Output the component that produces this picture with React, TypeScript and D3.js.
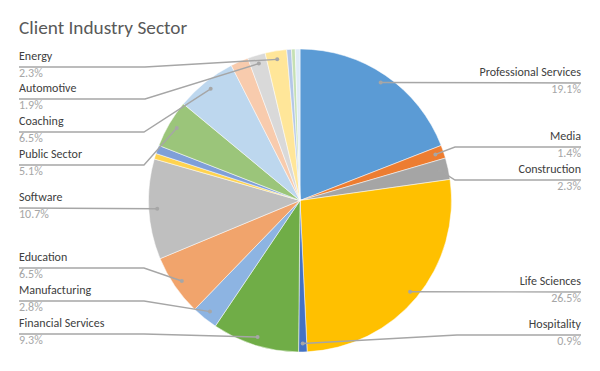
import React from "react";
import * as d3 from "d3";

const categories = [
  "Professional Services", "Media", "Construction", "Life Sciences", "Hospitality",
  "Financial Services", "Manufacturing", "Education", "Software", "Other A", "Other B",
  "Public Sector", "Coaching", "Other C", "Automotive", "Energy", "Other D", "Other E", "Other F",
];
const values = [19.1, 1.4, 2.3, 26.5, 0.9, 9.3, 2.8, 6.5, 10.7, 0.6, 0.9, 5.1, 6.5, 1.9, 1.9, 2.3, 0.5, 0.4, 0.5];
const pctLabels = ["19.1%", "1.4%", "2.3%", "26.5%", "0.9%", "9.3%", "2.8%", "6.5%", "10.7%", "", "", "5.1%", "6.5%", "", "1.9%", "2.3%", "", "", ""];
const colors = [
  "#5B9BD5", "#ED7D31", "#A5A5A5", "#FFC000", "#4472C4", "#70AD47",
  "#8DB4E2", "#F1A46C", "#BFBFBF", "#FFD34F", "#7F9FD8", "#9BC57A",
  "#BDD7EE", "#F8CBAD", "#D9D9D9", "#FFE699", "#B4C7E7", "#C5E0B4", "#DEEBF7",
];

// label layout: side, leader line y, bend x (null = straight)
const labelLayout: Record<string, { side: "left" | "right"; y: number; bend: number | null }> = {
  "Energy": { side: "left", y: 67, bend: 145 },
  "Automotive": { side: "left", y: 99, bend: 145 },
  "Coaching": { side: "left", y: 132, bend: 144 },
  "Public Sector": { side: "left", y: 165, bend: 144 },
  "Software": { side: "left", y: 208, bend: null },
  "Education": { side: "left", y: 268, bend: 144 },
  "Manufacturing": { side: "left", y: 301, bend: 144 },
  "Financial Services": { side: "left", y: 334, bend: 144 },
  "Professional Services": { side: "right", y: 83, bend: null },
  "Media": { side: "right", y: 147, bend: 455 },
  "Construction": { side: "right", y: 180, bend: 455 },
  "Life Sciences": { side: "right", y: 292, bend: null },
  "Hospitality": { side: "right", y: 335, bend: 457 },
};

const W = 600, H = 371;
const CX = 300, CY = 200.5, R = 151.5;
const LEFT_X = 19, RIGHT_X = 581;
const FONT = "Carlito, Calibri, Lato, 'Open Sans', sans-serif";

export default function App() {
  const data = categories.map((c, i) => ({ name: c, value: values[i], pct: pctLabels[i], color: colors[i] }));
  const pie = d3.pie<any>().sort(null).value((d) => d.value);
  const arcs = pie(data);
  const arc = d3.arc<any>().innerRadius(0).outerRadius(R);
  const dotArc = d3.arc<any>().innerRadius(143).outerRadius(143);

  return (
    <svg width={W} height={H} style={{ position: "absolute", left: 0, top: 0, background: "#fff" }} fontFamily={FONT}>
      <rect width={W} height={H} fill="#fff" />
      <text x={LEFT_X} y={34} fontSize={19.3} fill="#595959">Client Industry Sector</text>
      <g transform={`translate(${CX},${CY})`}>
        {arcs.map((a, i) => (
          <path key={i} d={arc(a) as string} fill={a.data.color} stroke="#fff" strokeWidth={0.5} />
        ))}
      </g>
      {arcs.map((a, i) => {
        const lay = labelLayout[a.data.name];
        if (!lay) return null;
        const [dx, dy] = dotArc.centroid(a);
        const px = CX + dx, py = CY + dy;
        const tx = lay.side === "left" ? LEFT_X : RIGHT_X;
        const pts: [number, number][] = [[tx, lay.y]];
        if (lay.bend !== null) pts.push([lay.bend, lay.y]);
        pts.push([px, py]);
        const line = d3.line()(pts) as string;
        const anchor = lay.side === "left" ? "start" : "end";
        return (
          <g key={"l" + i}>
            <path d={line} fill="none" stroke="#A6A6A6" strokeWidth={1.4} />
            <circle cx={px} cy={py} r={2} fill="#A6A6A6" />
            <text x={tx} y={lay.y - 7} fontSize={12} fill="#404040" textAnchor={anchor}>{a.data.name}</text>
            <text x={tx} y={lay.y + 10} fontSize={12} fill="#A6A6A6" textAnchor={anchor}>{a.data.pct}</text>
          </g>
        );
      })}
    </svg>
  );
}
